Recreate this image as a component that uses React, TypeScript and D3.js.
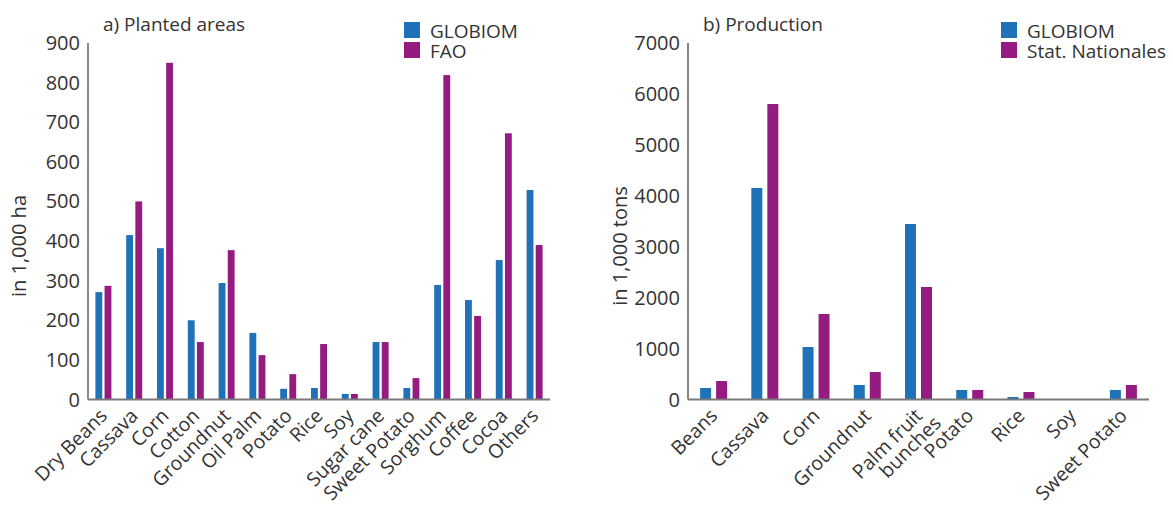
import React from "react";
import * as d3 from "d3";

// Panel a) planted areas (1,000 ha)
const areaCategories = [
  "Dry Beans", "Cassava", "Corn", "Cotton", "Groundnut", "Oil Palm", "Potato",
  "Rice", "Soy", "Sugar cane", "Sweet Potato", "Sorghum", "Coffee", "Cocoa", "Others",
];
const areaGlobiom = [271, 415, 382, 200, 294, 168, 27, 29, 14, 145, 29, 289, 251, 352, 529];
const areaFao = [287, 500, 850, 145, 377, 112, 64, 140, 14, 145, 54, 819, 211, 672, 390];
const areaTicks = [0, 100, 200, 300, 400, 500, 600, 700, 800, 900];

// Panel b) production (1,000 tons)
const prodCategories = [
  "Beans", "Cassava", "Corn", "Groundnut", "Palm fruit\nbunches", "Potato",
  "Rice", "Soy", "Sweet Potato",
];
const prodGlobiom = [226, 4153, 1031, 285, 3446, 187, 49, 5, 187];
const prodStat = [363, 5802, 1679, 540, 2209, 187, 147, 5, 285];
const prodTicks = [0, 1000, 2000, 3000, 4000, 5000, 6000, 7000];

const BLUE = "#1f71b8";
const PURPLE = "#951b80";
const TEXT = "#333333";
const FONT = "'Open Sans', 'Noto Sans', sans-serif";

type PanelProps = {
  title: string;
  yLabel: string;
  categories: string[];
  seriesA: number[];
  seriesB: number[];
  nameA: string;
  nameB: string;
  ticks: number[];
  x0: number;
  x1: number;
  yMax: number;
  groupHalf: number;
  innerPad: number;
  legendX: number;
  yLabelX: number;
  yAxisColor: string;
  yAxisWidth: number;
};

const Y0 = 399.5;
const YTOP = 43;

function Panel(p: PanelProps) {
  const x = d3.scaleBand<string>().domain(p.categories).range([p.x0, p.x1]).padding(0);
  const y = d3.scaleLinear().domain([0, p.yMax]).range([Y0, YTOP]);
  const keys = ["a", "b"];
  const colors = [BLUE, PURPLE];
  const rows = p.categories.map((c, i) => ({ c, vals: [p.seriesA[i], p.seriesB[i]] }));

  return (
    <g>
      <text x={p.x0 + 15} y={31} fontSize={19} fill={TEXT} fontFamily={FONT}>
        {p.title}
      </text>
      {/* legend */}
      {[p.nameA, p.nameB].map((n, i) => (
        <g key={n}>
          <rect x={p.legendX} y={22 + i * 20} width={16} height={16} fill={colors[i]} />
          <text x={p.legendX + 26} y={38 + i * 20} fontSize={19} fill={TEXT} fontFamily={FONT}>
            {n}
          </text>
        </g>
      ))}
      {/* y tick labels */}
      {p.ticks.map((t) => (
        <text
          key={t}
          x={p.x0 - 8}
          y={y(t)}
          dy="0.35em"
          textAnchor="end"
          fontSize={20}
          fill={TEXT}
          fontFamily={FONT}
        >
          {t}
        </text>
      ))}
      <text
        transform={`translate(${p.yLabelX},${246}) rotate(-90)`}
        textAnchor="middle"
        dy="0.35em"
        fontSize={20}
        fill={TEXT}
        fontFamily={FONT}
      >
        {p.yLabel}
      </text>
      {/* bars */}
      {rows.map((r) => {
        const cx = (x(r.c) as number) + x.bandwidth() / 2;
        const inner = d3
          .scaleBand<string>()
          .domain(keys)
          .range([cx - p.groupHalf, cx + p.groupHalf])
          .paddingInner(p.innerPad);
        return (
          <g key={r.c}>
            {r.vals.map((v, j) => (
              <rect
                key={j}
                x={inner(keys[j])}
                y={y(v)}
                width={inner.bandwidth()}
                height={Y0 - y(v)}
                fill={colors[j]}
              />
            ))}
          </g>
        );
      })}
      {/* axes */}
      <line x1={p.x0} x2={p.x0} y1={YTOP} y2={Y0} stroke={p.yAxisColor} strokeWidth={p.yAxisWidth} />
      <line x1={p.x0} x2={p.x1} y1={Y0} y2={Y0} stroke="#7a7a7a" strokeWidth={2} />
      {/* category labels */}
      {p.categories.map((c) => {
        const cx = (x(c) as number) + x.bandwidth() / 2;
        const lines = c.split("\n");
        return (
          <text
            key={c}
            transform={`translate(${cx + 5},${417}) rotate(-45)`}
            textAnchor="end"
            fontSize={19.5}
            fill={TEXT}
            fontFamily={FONT}
          >
            {lines.map((l, k) => (
              <tspan key={k} x={k * 8} dy={k === 0 ? 0 : "0.95em"}>
                {l}
              </tspan>
            ))}
          </text>
        );
      })}
    </g>
  );
}

export default function App() {
  return (
    <svg
      width={1173}
      height={505}
      style={{ position: "absolute", left: 0, top: 0, background: "#fff" }}
    >
      <Panel
        title="a) Planted areas"
        yLabel="in 1,000 ha"
        categories={areaCategories}
        seriesA={areaGlobiom}
        seriesB={areaFao}
        nameA="GLOBIOM"
        nameB="FAO"
        ticks={areaTicks}
        x0={88}
        x1={550}
        yMax={900}
        groupHalf={8}
        innerPad={0.25}
        legendX={404}
        yLabelX={19}
        yAxisColor="#8a8a8a"
        yAxisWidth={2}
      />
      <Panel
        title="b) Production"
        yLabel="in 1,000 tons"
        categories={prodCategories}
        seriesA={prodGlobiom}
        seriesB={prodStat}
        nameA="GLOBIOM"
        nameB="Stat. Nationales"
        ticks={prodTicks}
        x0={688}
        x1={1149}
        yMax={7000}
        groupHalf={13.5}
        innerPad={0.3125}
        legendX={1001}
        yLabelX={620}
        yAxisColor="#333"
        yAxisWidth={1.2}
      />
    </svg>
  );
}
